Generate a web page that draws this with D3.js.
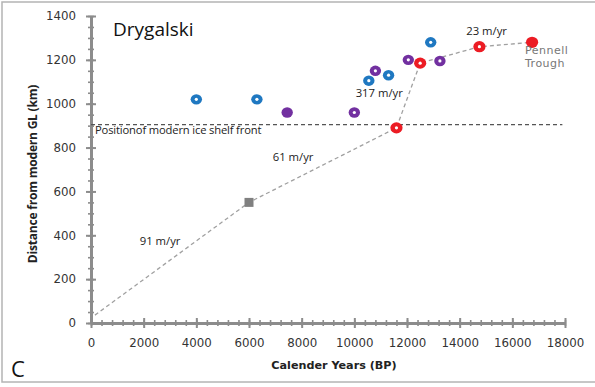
<!DOCTYPE html>
<html>
<head>
<meta charset="utf-8">
<script src="https://cdn.jsdelivr.net/npm/d3@7"></script>
<style>
  html, body { margin: 0; padding: 0; background: #fff; }
  svg { display: block; }
</style>
</head>
<body>
<script>
// ---- data ----
const blueYears = [4000, 6300, 10550, 11300, 12900];
const blueDist = [1020, 1020, 1105, 1130, 1280];

const purpleYears = [7450, 10000, 10800, 12050, 13250];
const purpleDist = [960, 960, 1150, 1200, 1195];

const redYears = [11600, 12500, 14750, 16750];
const redDist = [890, 1185, 1260, 1280];

const squareYears = [6000];
const squareDist = [550];

// grounding-line retreat trend (dashed)
const trendYears = [150, 6000, 11600, 12500, 14750, 16750];
const trendDist = [36, 550, 890, 1185, 1260, 1280];

const iceShelfFront = 905;

const xTicks = [0, 2000, 4000, 6000, 8000, 10000, 12000, 14000, 16000, 18000];
const yTicks = [0, 200, 400, 600, 800, 1000, 1200, 1400];

const rateLabels = ["91 m/yr", "61 m/yr", "317 m/yr", "23 m/yr"];
const rateYears = [1850, 6900, 10050, 14250];
const rateDist = [355, 740, 1030, 1315];

const W = 595, H = 387;
const x = d3.scaleLinear().domain([0, 18000]).range([91, 565]);
const y = d3.scaleLinear().domain([0, 1400]).range([323, 16]);

const AXIS = "#8c8c8c";
const svg = d3.select("body").append("svg").attr("width", W).attr("height", H);

// light frame around the panel
svg.append("rect")
  .attr("x", 2).attr("y", 2).attr("width", W + 4).attr("height", 380)
  .attr("fill", "none").attr("stroke", "#b4b4b4").attr("stroke-width", 1.5);

// ---- axes ----
function styleAxis(g, major, horiz) {
  g.select(".domain").attr("stroke", AXIS).attr("stroke-width", 3);
  g.selectAll(".tick line")
    .attr("stroke", AXIS).attr("stroke-width", major ? 2 : 1.6)
    .attr(horiz ? "y1" : "x1", major ? -5 : -3)
    .attr(horiz ? "y2" : "x2", major ? 5 : 3);
  g.selectAll(".tick text")
    .attr("fill", "#333")
    .style("font", "11.8px 'DejaVu Sans', sans-serif");
}

svg.append("g").attr("transform", "translate(0,323)")
  .call(d3.axisBottom(x).tickValues(d3.range(0, 18001, 400)).tickFormat("").tickSizeOuter(0))
  .call(g => styleAxis(g, false, true));
svg.append("g").attr("transform", "translate(0,323)")
  .call(d3.axisBottom(x).tickValues(xTicks).tickSizeOuter(0).tickPadding(10).tickFormat(d3.format("d")))
  .call(g => styleAxis(g, true, true))
  .call(g => g.select(".domain").remove());

svg.append("g").attr("transform", "translate(91,0)")
  .call(d3.axisLeft(y).tickValues(d3.range(0, 1401, 50)).tickFormat("").tickSizeOuter(0))
  .call(g => styleAxis(g, false, false));
svg.append("g").attr("transform", "translate(91,0)")
  .call(d3.axisLeft(y).tickValues(yTicks).tickSizeOuter(0).tickPadding(9).tickFormat(d3.format("d")))
  .call(g => styleAxis(g, true, false))
  .call(g => g.select(".domain").remove());

// axis titles
svg.append("text")
  .attr("x", 334).attr("y", 369).attr("text-anchor", "middle")
  .attr("fill", "#222")
  .style("font", "bold 11.2px 'DejaVu Sans', sans-serif")
  .text("Calender Years (BP)");

svg.append("text")
  .attr("transform", "translate(37,174) rotate(-90)")
  .attr("text-anchor", "middle").attr("fill", "#222")
  .style("font", "bold 12px 'Open Sans', sans-serif")
  .style("letter-spacing", "-0.2px")
  .text("Distance from modern GL (km)");

// ---- modern ice-shelf front ----
svg.append("line")
  .attr("x1", x(0)).attr("x2", x(17900))
  .attr("y1", y(iceShelfFront)).attr("y2", y(iceShelfFront))
  .attr("stroke", "#555").attr("stroke-width", 1.3).attr("stroke-dasharray", "4,3");
svg.append("text")
  .attr("x", 95).attr("y", y(iceShelfFront) + 9.5)
  .attr("fill", "#222")
  .style("font", "11.2px 'Open Sans', sans-serif")
  .style("letter-spacing", "-0.15px")
  .text("Positionof modern ice shelf front");

// ---- trend line ----
svg.append("path")
  .datum(d3.zip(trendYears, trendDist))
  .attr("d", d3.line().x(d => x(d[0])).y(d => y(d[1])))
  .attr("fill", "none").attr("stroke", "#a0a0a0")
  .attr("stroke-width", 1.3).attr("stroke-dasharray", "4,3");

// ---- markers ----
function dots(years, dist, colour, r, solid) {
  const pts = d3.zip(years, dist);
  const g = svg.append("g");
  g.selectAll("ellipse").data(pts).join("ellipse")
    .attr("cx", d => x(d[0])).attr("cy", d => y(d[1]))
    .attr("rx", r + 0.5).attr("ry", r)
    .attr("fill", colour);
  g.selectAll("circle").data(pts.filter(d => !solid.includes(d[0]))).join("circle")
    .attr("cx", d => x(d[0])).attr("cy", d => y(d[1]))
    .attr("r", 1.6).attr("fill", "#fff");
}
dots(blueYears, blueDist, "#1f78c1", 5.2, []);
dots(purpleYears, purpleDist, "#7230a0", 5.2, [7450]);
dots(redYears, redDist, "#ec1c24", 5.6, [16750]);

svg.selectAll("rect.sq").data(d3.zip(squareYears, squareDist)).join("rect")
  .attr("class", "sq")
  .attr("x", d => x(d[0]) - 4.5).attr("y", d => y(d[1]) - 4.5)
  .attr("width", 9).attr("height", 9).attr("fill", "#808080");

// ---- annotations ----
svg.append("g").selectAll("text").data(d3.zip(rateLabels, rateYears, rateDist)).join("text")
  .attr("x", d => x(d[1])).attr("y", d => y(d[2]))
  .attr("fill", "#222")
  .style("font", "11.3px 'Open Sans', sans-serif")
  .text(d => d[0]);

svg.append("text").attr("x", 525).attr("y", 54)
  .attr("fill", "#777").style("font", "11px 'DejaVu Sans', sans-serif")
  .style("letter-spacing", "0.5px")
  .text("Pennell");
svg.append("text").attr("x", 525).attr("y", 67)
  .attr("fill", "#777").style("font", "11px 'DejaVu Sans', sans-serif")
  .style("letter-spacing", "0.5px")
  .text("Trough");

svg.append("text").attr("x", 113).attr("y", 36)
  .attr("fill", "#111").style("font", "19px 'Open Sans', sans-serif")
  .text("Drygalski");

svg.append("text").attr("x", 11).attr("y", 377)
  .attr("fill", "#111").style("font", "22px 'Open Sans', sans-serif")
  .text("C");
</script>
</body>
</html>
